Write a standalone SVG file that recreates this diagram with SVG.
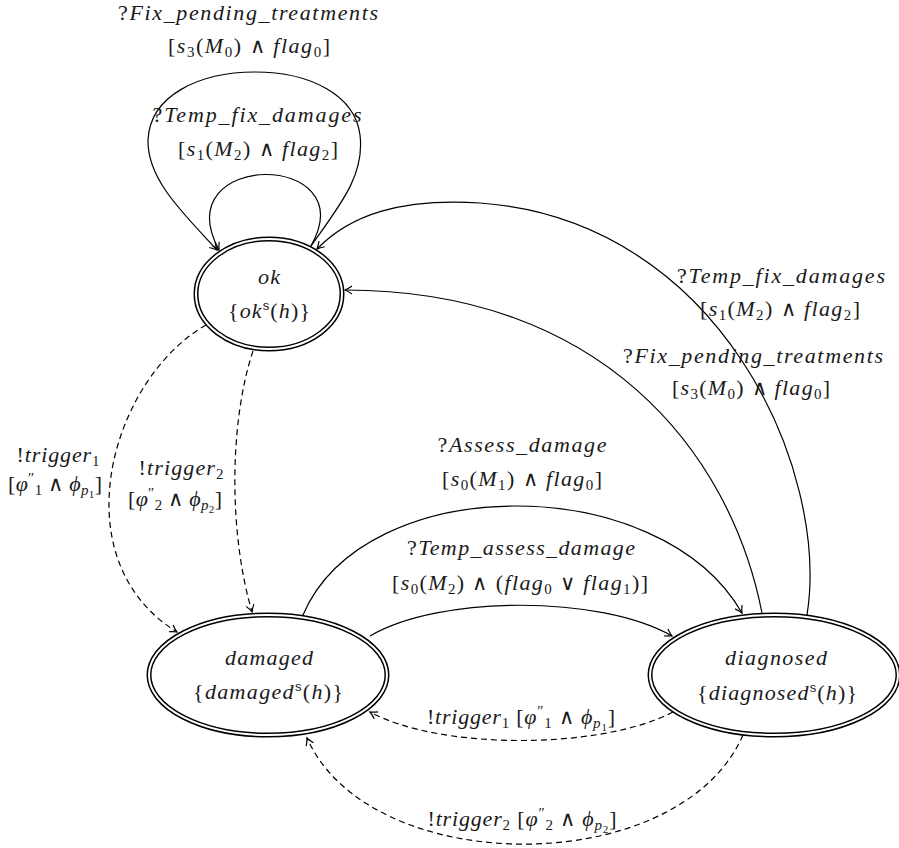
<svg xmlns="http://www.w3.org/2000/svg" width="899" height="848" viewBox="0 0 899 848">
  <style>
    .t { font-family: "Liberation Serif", "DejaVu Serif", serif; font-size: 22px; font-style: italic; fill: #1a1a1a; }
    .u { font-style: normal; }
    .s { font-size: 15px; }
    .ss { font-size: 11px; }
    .op { font-family: "DejaVu Sans", sans-serif; font-weight: 200; font-size: 21px; font-style: normal; }
    .sf { font-family: "Liberation Sans", "DejaVu Sans", sans-serif; font-size: 13px; font-style: normal; }
    .state { fill: #fff; stroke: #000; stroke-width: 5; }
    .gap { fill: none; stroke: #fff; stroke-width: 2; }
    .edge { fill: none; stroke: #000; stroke-width: 1.2; marker-end: url(#ah); }
    .dash { stroke-dasharray: 6 4; }
  </style>
  <defs>
    <marker id="ah" viewBox="-10 -6 12 12" refX="0" refY="0" markerWidth="12" markerHeight="12" markerUnits="userSpaceOnUse" orient="auto">
      <path d="M-7,-4 Q-3,-1.2 0,0 Q-3,1.2 -7,4" fill="none" stroke="#000" stroke-width="1.2" stroke-dasharray="none"/>
    </marker>
  </defs>

  <rect width="899" height="848" fill="#fff"/>

  <!-- transitions -->
  <g id="connectors">
    <!-- ok self loops -->
    <path class="edge" d="M311,246 C340,205 365,175 360,135 C355,95 310,72 255,72 C200,72 150,95 148,140 C147,180 185,215 217,250"/>
    <path class="edge" d="M311,246 C365,150 165,150 219,250"/>
    <!-- ok to damaged -->
    <path class="edge dash" d="M206,325 C110,380 60,560 177,632"/>
    <path class="edge dash" d="M253,351 C230,420 228,530 252,612"/>
    <!-- damaged to diagnosed -->
    <path class="edge" d="M303,615 C365,470 660,470 742,613"/>
    <path class="edge" d="M370,636 C440,595 600,595 672,636"/>
    <!-- diagnosed to ok -->
    <path class="edge" d="M762,613 C730,450 600,290 345,290"/>
    <path class="edge" d="M807,615 C830,470 720,220 480,203 C400,198 350,215 317,249"/>
    <!-- diagnosed to damaged -->
    <path class="edge dash" d="M673,712 C600,750 440,750 370,712"/>
    <path class="edge dash" d="M743,735 C680,880 370,880 307,738"/>
  </g>

  <!-- transition labels -->
  <g id="labels">
    <text class="t" x="248" y="20" text-anchor="middle" textLength="260" lengthAdjust="spacing"><tspan class="u">?</tspan>Fix_pending_treatments</text>
    <text class="t" x="249" y="53" text-anchor="middle" textLength="162" lengthAdjust="spacing"><tspan class="u">[</tspan>s<tspan class="s u" dy="4">3</tspan><tspan class="u" dy="-4">(</tspan>M<tspan class="s u" dy="4">0</tspan><tspan class="u" dy="-4">) </tspan><tspan class="op">∧</tspan> flag<tspan class="s u" dy="4">0</tspan><tspan class="u" dy="-4">]</tspan></text>

    <text class="t" x="257" y="122" text-anchor="middle" textLength="209" lengthAdjust="spacing"><tspan class="u">?</tspan>Temp_fix_damages</text>
    <text class="t" x="258" y="156" text-anchor="middle" textLength="160" lengthAdjust="spacing"><tspan class="u">[</tspan>s<tspan class="s u" dy="4">1</tspan><tspan class="u" dy="-4">(</tspan>M<tspan class="s u" dy="4">2</tspan><tspan class="u" dy="-4">) </tspan><tspan class="op">∧</tspan> flag<tspan class="s u" dy="4">2</tspan><tspan class="u" dy="-4">]</tspan></text>

    <text class="t" x="781" y="283" text-anchor="middle" textLength="208" lengthAdjust="spacing"><tspan class="u">?</tspan>Temp_fix_damages</text>
    <text class="t" x="780" y="316" text-anchor="middle" textLength="160" lengthAdjust="spacing"><tspan class="u">[</tspan>s<tspan class="s u" dy="4">1</tspan><tspan class="u" dy="-4">(</tspan>M<tspan class="s u" dy="4">2</tspan><tspan class="u" dy="-4">) </tspan><tspan class="op">∧</tspan> flag<tspan class="s u" dy="4">2</tspan><tspan class="u" dy="-4">]</tspan></text>

    <text class="t" x="753" y="363" text-anchor="middle" textLength="260" lengthAdjust="spacing"><tspan class="u">?</tspan>Fix_pending_treatments</text>
    <text class="t" x="751" y="395" text-anchor="middle" textLength="158" lengthAdjust="spacing"><tspan class="u">[</tspan>s<tspan class="s u" dy="4">3</tspan><tspan class="u" dy="-4">(</tspan>M<tspan class="s u" dy="4">0</tspan><tspan class="u" dy="-4">) </tspan><tspan class="op">∧</tspan> flag<tspan class="s u" dy="4">0</tspan><tspan class="u" dy="-4">]</tspan></text>

    <text class="t" x="58" y="462" text-anchor="middle" textLength="83" lengthAdjust="spacing"><tspan class="u">!</tspan>trigger<tspan class="s u" dy="4">1</tspan></text>
    <text class="t" x="55" y="491" text-anchor="middle" textLength="94" lengthAdjust="spacing"><tspan class="u">[</tspan>φ<tspan class="s u" dy="-8">″</tspan><tspan class="s u" dy="12">1</tspan><tspan class="u" dy="-4"> </tspan><tspan class="op">∧</tspan> ϕ<tspan class="s" dy="4">p</tspan><tspan class="ss u" dy="3">1</tspan><tspan class="u" dy="-7">]</tspan></text>

    <text class="t" x="181" y="475" text-anchor="middle" textLength="85" lengthAdjust="spacing"><tspan class="u">!</tspan>trigger<tspan class="s u" dy="4">2</tspan></text>
    <text class="t" x="175" y="506" text-anchor="middle" textLength="94" lengthAdjust="spacing"><tspan class="u">[</tspan>φ<tspan class="s u" dy="-8">″</tspan><tspan class="s u" dy="12">2</tspan><tspan class="u" dy="-4"> </tspan><tspan class="op">∧</tspan> ϕ<tspan class="s" dy="4">p</tspan><tspan class="ss u" dy="3">2</tspan><tspan class="u" dy="-7">]</tspan></text>

    <text class="t" x="522" y="452" text-anchor="middle" textLength="169" lengthAdjust="spacing"><tspan class="u">?</tspan>Assess_damage</text>
    <text class="t" x="522" y="486" text-anchor="middle" textLength="160" lengthAdjust="spacing"><tspan class="u">[</tspan>s<tspan class="s u" dy="4">0</tspan><tspan class="u" dy="-4">(</tspan>M<tspan class="s u" dy="4">1</tspan><tspan class="u" dy="-4">) </tspan><tspan class="op">∧</tspan> flag<tspan class="s u" dy="4">0</tspan><tspan class="u" dy="-4">]</tspan></text>

    <text class="t" x="521" y="555" text-anchor="middle" textLength="228" lengthAdjust="spacing"><tspan class="u">?</tspan>Temp_assess_damage</text>
    <text class="t" x="520" y="590" text-anchor="middle" textLength="256" lengthAdjust="spacing"><tspan class="u">[</tspan>s<tspan class="s u" dy="4">0</tspan><tspan class="u" dy="-4">(</tspan>M<tspan class="s u" dy="4">2</tspan><tspan class="u" dy="-4">) </tspan><tspan class="op">∧</tspan><tspan class="u"> (</tspan>flag<tspan class="s u" dy="4">0</tspan><tspan class="u" dy="-4"> </tspan><tspan class="op">∨</tspan> flag<tspan class="s u" dy="4">1</tspan><tspan class="u" dy="-4">)]</tspan></text>

    <text class="t" x="521" y="724" text-anchor="middle" textLength="188" lengthAdjust="spacing"><tspan class="u">!</tspan>trigger<tspan class="s u" dy="4">1</tspan><tspan class="u" dy="-4"> [</tspan>φ<tspan class="s u" dy="-8">″</tspan><tspan class="s u" dy="12">1</tspan><tspan class="u" dy="-4"> </tspan><tspan class="op">∧</tspan> ϕ<tspan class="s" dy="4">p</tspan><tspan class="ss u" dy="3">1</tspan><tspan class="u" dy="-7">]</tspan></text>
    <text class="t" x="522" y="826" text-anchor="middle" textLength="189" lengthAdjust="spacing"><tspan class="u">!</tspan>trigger<tspan class="s u" dy="4">2</tspan><tspan class="u" dy="-4"> [</tspan>φ<tspan class="s u" dy="-8">″</tspan><tspan class="s u" dy="12">2</tspan><tspan class="u" dy="-4"> </tspan><tspan class="op">∧</tspan> ϕ<tspan class="s" dy="4">p</tspan><tspan class="ss u" dy="3">2</tspan><tspan class="u" dy="-7">]</tspan></text>
  </g>

  <!-- states (double outline = accepting) -->
  <g id="ok">
    <ellipse class="state" cx="269" cy="294" rx="73" ry="55"/>
    <ellipse class="gap" cx="269" cy="294" rx="73" ry="55"/>
    <text class="t" x="269" y="284" text-anchor="middle" textLength="22" lengthAdjust="spacing">ok</text>
    <text class="t" x="269" y="318" text-anchor="middle" textLength="82" lengthAdjust="spacing"><tspan class="u">{</tspan>ok<tspan class="sf" dy="-8">s</tspan><tspan class="u" dy="8">(</tspan>h<tspan class="u">)}</tspan></text>
  </g>

  <g id="damaged">
    <ellipse class="state" cx="268" cy="675" rx="119" ry="60"/>
    <ellipse class="gap" cx="268" cy="675" rx="119" ry="60"/>
    <text class="t" x="269" y="665" text-anchor="middle" textLength="88" lengthAdjust="spacing">damaged</text>
    <text class="t" x="268" y="699" text-anchor="middle" textLength="150" lengthAdjust="spacing"><tspan class="u">{</tspan>damaged<tspan class="sf" dy="-8">s</tspan><tspan class="u" dy="8">(</tspan>h<tspan class="u">)}</tspan></text>
  </g>

  <g id="diagnosed">
    <ellipse class="state" cx="774" cy="675" rx="124" ry="60"/>
    <ellipse class="gap" cx="774" cy="675" rx="124" ry="60"/>
    <text class="t" x="776" y="665" text-anchor="middle" textLength="102" lengthAdjust="spacing">diagnosed</text>
    <text class="t" x="777" y="700" text-anchor="middle" textLength="160" lengthAdjust="spacing"><tspan class="u">{</tspan>diagnosed<tspan class="sf" dy="-8">s</tspan><tspan class="u" dy="8">(</tspan>h<tspan class="u">)}</tspan></text>
  </g>
</svg>
